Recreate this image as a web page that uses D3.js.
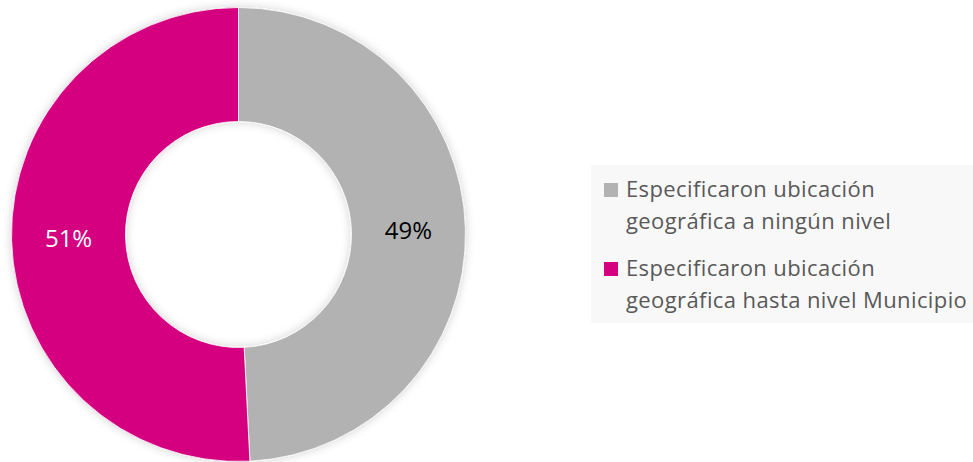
<!DOCTYPE html>
<html>
<head>
<meta charset="utf-8">
<script src="https://cdn.jsdelivr.net/npm/d3@7"></script>
<style>
  body { margin: 0; background: #fff; }
  svg { display: block; font-family: "Open Sans", "Noto Sans", sans-serif; }
</style>
</head>
<body>
<div id="chart"></div>
<script>
// data
var labels = [
  ['Especificaron ubicación', 'geográfica a ningún nivel'],
  ['Especificaron ubicación', 'geográfica hasta nivel Municipio']
];
var values = [49.2, 50.8];
var colors = ['#b2b2b2', '#d5007f'];
var labelColors = ['#000000', '#ffffff'];

var width = 973, height = 462;
var cx = 238.5, cy = 234.5;
var outerR = 227, innerR = 113;

var svg = d3.select('#chart').append('svg')
  .attr('width', width)
  .attr('height', height);

// soft shadow round the ring
var defs = svg.append('defs');
var f = defs.append('filter').attr('id', 'shadow')
  .attr('x', '-10%').attr('y', '-10%').attr('width', '120%').attr('height', '120%');
f.append('feDropShadow')
  .attr('dx', 0).attr('dy', 0)
  .attr('stdDeviation', 5)
  .attr('flood-color', '#000')
  .attr('flood-opacity', 0.18);

var g = svg.append('g')
  .attr('transform', 'translate(' + cx + ',' + cy + ')');

var pie = d3.pie().sort(null).value(function(d) { return d; });
var arc = d3.arc().innerRadius(innerR).outerRadius(outerR);
var arcs = pie(values);

g.append('g').attr('filter', 'url(#shadow)')
  .selectAll('path')
  .data(arcs)
  .enter()
  .append('path')
  .attr('d', arc)
  .attr('fill', function(d, i) { return colors[i]; })
  .attr('stroke', '#fff')
  .attr('stroke-width', 0.8);

g.selectAll('.pct')
  .data(arcs)
  .enter()
  .append('text')
  .attr('class', 'pct')
  .attr('transform', function(d) { return 'translate(' + arc.centroid(d) + ')'; })
  .attr('text-anchor', 'middle')
  .attr('dy', '0.35em')
  .attr('font-size', 24)
  .attr('fill', function(d, i) { return labelColors[i]; })
  .text(function(d) { return Math.round(d.data) + '%'; });

// legend
var legend = svg.append('g');
legend.append('rect')
  .attr('x', 591).attr('y', 165)
  .attr('width', width - 591).attr('height', 158)
  .attr('fill', '#f8f8f8');

var item = legend.selectAll('.item')
  .data(labels)
  .enter()
  .append('g')
  .attr('class', 'item')
  .attr('transform', function(d, i) { return 'translate(604,' + (183 + i * 79) + ')'; });

item.append('rect')
  .attr('width', 14).attr('height', 14)
  .attr('fill', function(d, i) { return colors[i]; });

item.append('text')
  .attr('x', 22)
  .attr('y', 14)
  .attr('font-size', 22)
  .attr('letter-spacing', 0.4)
  .attr('fill', '#595959')
  .selectAll('tspan')
  .data(function(d) { return d; })
  .enter()
  .append('tspan')
  .attr('x', 22)
  .attr('dy', function(d, i) { return i === 0 ? 0 : 32; })
  .text(function(d) { return d; });
</script>
</body>
</html>
